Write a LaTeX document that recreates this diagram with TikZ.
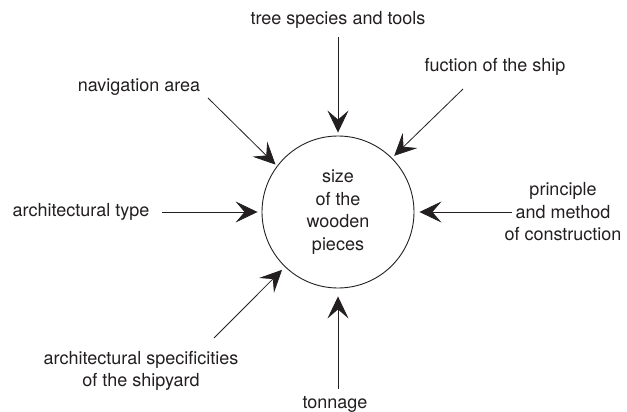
\documentclass[tikz,border=0pt]{standalone}
\usepackage{fontspec}
\setmainfont{TeX Gyre Heros}
\usepackage{xcolor}
\usepackage{tikz}
\usetikzlibrary{positioning,arrows.meta}

\definecolor{ink}{HTML}{231F20}

\begin{document}
\begin{tikzpicture}[x=1pt, y=-1pt,
    every node/.style={font=\fontsize{18}{22.5}\selectfont, text=ink},
    lbl/.style={inner sep=2pt, align=center},
    hub/.style={draw=ink, line width=0.9pt, circle, minimum size=152pt,
        inner sep=0pt, align=center},
    feed/.style={draw=ink, line width=0.8pt,
        -{Stealth[length=22pt, width=21pt, inset=9pt]}}]

\useasboundingbox (0,0) rectangle (627,412);

% Centre
\node[hub] (size) at (338,212) {size\\of the\\wooden\\pieces};

% Factors
\node[lbl] (tree) at (338,20) {tree species and tools};
\node[lbl] (func) at (495,67) {fuction of the ship};
\node[lbl] (nav) at (139,87) {navigation area};
\node[lbl] (type) at (81,212) {architectural type};
\node[lbl] (princ) at (563,212) {principle\\and method\\of construction};
\node[lbl] (yard) at (141,371) {architectural specificities\\of the shipyard};
\node[lbl] (ton) at (335,404) {tonnage};

% Start points of the arrows
\coordinate (tree-s) at (338,37);
\coordinate (func-s) at (463,89);
\coordinate (nav-s) at (208,98);
\coordinate (type-s) at (162,212);
\coordinate (princ-s) at (512,212);
\coordinate (yard-s) at (214,338);
\coordinate (ton-s) at (338,389);

% Arrows into the circle
\draw[feed, shorten >=3pt] (tree-s) -- (size.north);
\draw[feed, shorten >=3pt] (func-s) -- (size.45);
\draw[feed, shorten >=2pt] (nav-s) -- (size.143);
\draw[feed, shorten >=4pt] (type-s) -- (size.west);
\draw[feed, shorten >=5pt] (princ-s) -- (size.east);
\draw[feed, shorten >=4pt] (yard-s) -- (size.226);
\draw[feed, shorten >=8pt] (ton-s) -- (size.south);

\end{tikzpicture}
\end{document}
